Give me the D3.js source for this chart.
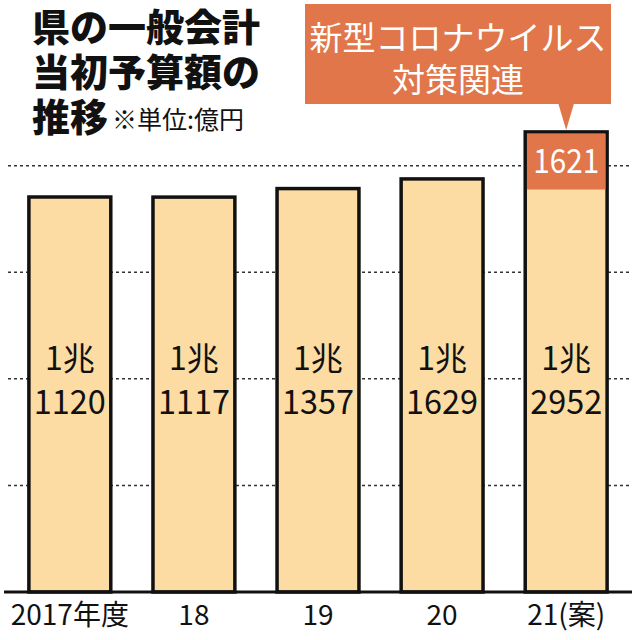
<!DOCTYPE html>
<html><head><meta charset="utf-8">
<script src="https://cdn.jsdelivr.net/npm/d3@7"></script>
<style>body{margin:0;background:#fff}</style>
</head><body><div id="chart"></div>
<script>
const years = ["2017年度", "18", "19", "20", "21(案)"];
const totals = [11120, 11117, 11357, 11629, 12952];
const labels = ["1120", "1117", "1357", "1629", "2952"];
const corona = [0, 0, 0, 0, 1621];
const gridTicks = [3000, 6000, 9000, 12000];

const W = 636, H = 640;
const font = "'Noto Sans CJK JP', sans-serif";
const svg = d3.select("#chart").append("svg").attr("width", W).attr("height", H);

const x = d3.scaleBand().domain(years).range([14, 622]).paddingInner(0.34).paddingOuter(0.12);
const y = d3.scaleLinear().domain([0, 11120]).range([592, 197]);
const idx = d => years.indexOf(d);

// dotted grid
svg.append("g").selectAll("line").data(gridTicks).join("line")
  .attr("x1", 8).attr("x2", 630)
  .attr("y1", d => y(d)).attr("y2", d => y(d))
  .attr("stroke", "#333").attr("stroke-width", 1.5).attr("stroke-dasharray", "3,3");

const bars = svg.append("g").selectAll("g").data(years).join("g");
bars.append("rect")
  .attr("x", d => x(d)).attr("width", x.bandwidth())
  .attr("y", d => y(totals[idx(d)])).attr("height", d => y(0) - y(totals[idx(d)]))
  .attr("fill", "#fcdca3").attr("stroke", "#111").attr("stroke-width", 3.5);
const cb = bars.filter(d => corona[idx(d)] > 0);
cb.append("rect")
  .attr("x", d => x(d) + 1.75).attr("width", x.bandwidth() - 3.5)
  .attr("y", d => y(totals[idx(d)]) + 1.75)
  .attr("height", d => y(0) - y(corona[idx(d)]) - 1.75)
  .attr("fill", "#e0764a");
cb.append("text")
  .attr("x", d => x(d) + x.bandwidth() / 2)
  .attr("y", d => y(totals[idx(d)]) + (y(0) - y(corona[idx(d)])) / 2 + 12)
  .attr("text-anchor", "middle").attr("fill", "#fff")
  .attr("font-family", font).attr("font-size", 34)
  .attr("textLength", 66).attr("lengthAdjust", "spacingAndGlyphs").text(d => corona[idx(d)]);

// value labels
bars.append("text").attr("x", d => x(d) + x.bandwidth() / 2).attr("y", 370)
  .attr("text-anchor", "middle").attr("font-family", font).attr("font-size", 32)
  .attr("fill", "#111").text("1兆");
bars.append("text").attr("x", d => x(d) + x.bandwidth() / 2).attr("y", 414)
  .attr("text-anchor", "middle").attr("font-family", font).attr("font-size", 34)
  .attr("fill", "#111").attr("textLength", 72).attr("lengthAdjust", "spacingAndGlyphs")
  .text(d => labels[idx(d)]);

// baseline
svg.append("line").attr("x1", 4).attr("x2", 632).attr("y1", y(0)).attr("y2", y(0))
  .attr("stroke", "#111").attr("stroke-width", 3);

// x labels
svg.append("g").selectAll("text").data(years).join("text")
  .attr("x", d => x(d) + x.bandwidth() / 2).attr("y", 625)
  .attr("text-anchor", "middle").attr("font-family", font).attr("font-size", 28)
  .attr("fill", "#111").text(d => d);

// title
const t = svg.append("g").attr("font-family", font).attr("font-weight", 900).attr("fill", "#111");
t.append("text").attr("x", 32).attr("y", 41).attr("font-size", 38).text("県の一般会計");
t.append("text").attr("x", 32).attr("y", 86).attr("font-size", 38).text("当初予算額の");
t.append("text").attr("x", 32).attr("y", 131).attr("font-size", 38).text("推移");
svg.append("text").attr("x", 112).attr("y", 129).attr("font-family", font)
  .attr("font-size", 25).attr("fill", "#111").text("※単位:億円");

// callout
const cx = x("21(案)") + x.bandwidth() / 2;
svg.append("rect").attr("x", 305).attr("y", 4).attr("width", 306).attr("height", 100).attr("fill", "#e0764a");
svg.append("path").attr("d", `M${cx - 8},103 L${cx + 8},103 L${cx},130 Z`).attr("fill", "#e0764a");
svg.append("text").attr("x", 458).attr("y", 50).attr("text-anchor", "middle").attr("font-family", font)
  .attr("font-size", 33).attr("fill", "#fff").text("新型コロナウイルス");
svg.append("text").attr("x", 458).attr("y", 92).attr("text-anchor", "middle").attr("font-family", font)
  .attr("font-size", 33).attr("fill", "#fff").text("対策関連");
</script></body></html>
